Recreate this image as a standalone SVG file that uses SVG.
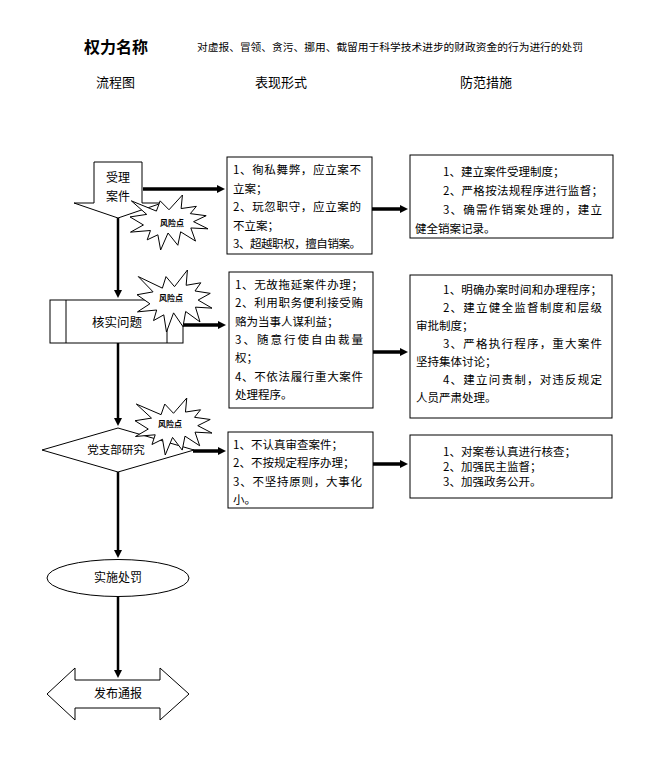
<svg xmlns="http://www.w3.org/2000/svg" xmlns:xlink="http://www.w3.org/1999/xlink" width="668" height="761" viewBox="0 0 668 761">
<style>
text{font-family:"Noto Sans CJK SC","Noto Sans",sans-serif;fill:#000}
.title{font-size:16px;font-weight:bold}
.sub{font-size:10.5px}
.hdr{font-size:13px}
.node{font-size:12px;text-anchor:middle}
.box{font-size:11.5px}
.risk{font-size:8px;font-weight:bold;text-anchor:middle}
.shape{fill:#fff;stroke:#000;stroke-width:1}
.conn{stroke:#000;stroke-width:2.5;fill:none}
.hconn{stroke:#000;stroke-width:3.5;fill:none}
.starp{fill:#fff;stroke:#000;stroke-width:1}
</style>
<defs>
<marker id="ah" markerUnits="userSpaceOnUse" markerWidth="10" markerHeight="10" refX="2" refY="4" orient="auto">
<path d="M0,0 L8,4 L0,8 z" fill="#000"/>
</marker>
<path id="star" d="M50,26.85 L67.23,0 L65.53,24.65 L85.09,20.63 L77.32,33.87 L97.67,37.67 L81.51,48.5 L100,61.53 L77.95,59.92 L84,83.77 L64.91,66.93 L61.33,91.38 L48.76,69.14 L39.28,100 L35.72,72.35 L22.05,81.56 L26.24,64.52 L0.63,67.53 L17.23,54.51 L0,39.88 L21.42,35.26 L1.71,10.63 L33.85,29.26 L38.67,10.63 Z" vector-effect="non-scaling-stroke"/>
</defs>
<rect x="0" y="0" width="668" height="761" fill="#fff"/>

<g id="header">
<text class="title" x="84" y="53">权力名称</text>
<text class="sub" x="197" y="51" textLength="386" lengthAdjust="spacingAndGlyphs">对虚报、冒领、贪污、挪用、截留用于科学技术进步的财政资金的行为进行的处罚</text>
<text class="hdr" x="96" y="87">流程图</text>
<text class="hdr" x="255" y="87">表现形式</text>
<text class="hdr" x="460" y="87">防范措施</text>
</g>

<g id="connectors">
<path class="conn" d="M118,218 V292" marker-end="url(#ah)"/>
<path class="conn" d="M118,343 V420" marker-end="url(#ah)"/>
<path class="conn" d="M118,472 V552" marker-end="url(#ah)"/>
<path class="conn" d="M118,597 V672" marker-end="url(#ah)"/>
<path class="hconn" d="M143,189 H219" marker-end="url(#ah)"/>
<path class="hconn" d="M372,209 H402" marker-end="url(#ah)"/>
<path class="hconn" d="M183,325 H220" marker-end="url(#ah)"/>
<path class="hconn" d="M373,352 H402" marker-end="url(#ah)"/>
<path class="hconn" d="M193,451 H220" marker-end="url(#ah)"/>
<path class="hconn" d="M373,464 H402" marker-end="url(#ah)"/>
</g>

<g id="node-accept">
<polygon class="shape" points="94,162 142,162 142,203 162,203 118,218 74,203 94,203"/>
<text class="node" x="118" y="182">受理</text>
<text class="node" x="118" y="201">案件</text>
</g>

<g id="node-verify">
<rect class="shape" x="50" y="300" width="133" height="43"/>
<line x1="66" y1="300" x2="66" y2="343" stroke="#000" stroke-width="1"/>
<line x1="167" y1="300" x2="167" y2="343" stroke="#000" stroke-width="1"/>
<text class="node" x="117" y="326.5" style="font-size:12.5px">核实问题</text>
</g>

<g id="node-party">
<polygon class="shape" points="42,450 118,428 194,450 118,472"/>
<text class="node" x="116" y="454" style="font-size:11.5px">党支部研究</text>
</g>

<g id="node-punish">
<ellipse class="shape" cx="118" cy="578" rx="71" ry="18.5"/>
<text class="node" x="118" y="582">实施处罚</text>
</g>

<g id="node-publish">
<polygon class="shape" points="47,694 75,668 75,680 160,680 160,668 189,694 160,720 160,708 75,708 75,720"/>
<text class="node" x="118" y="698">发布通报</text>
</g>

<g id="risk1">
<use href="#star" class="starp" transform="translate(130,195) scale(0.78,0.55)"/>
<text class="risk" x="172" y="226">风险点</text>
</g>
<g id="risk2">
<use href="#star" class="starp" transform="translate(137,270) scale(0.75,0.62)"/>
<text class="risk" x="171" y="301">风险点</text>
</g>
<g id="risk3">
<use href="#star" class="starp" transform="translate(135,398) scale(0.77,0.57)"/>
<text class="risk" x="170" y="427">风险点</text>
</g>

<g id="box-form1">
<rect class="shape" x="227" y="157" width="145" height="97"/>
<text class="box" x="233" y="174" textLength="128" lengthAdjust="spacing">1、徇私舞弊，应立案不</text>
<text class="box" x="233" y="192.5">立案；</text>
<text class="box" x="233" y="211" textLength="128" lengthAdjust="spacing">2、玩忽职守，应立案的</text>
<text class="box" x="233" y="229.5">不立案；</text>
<text class="box" x="233" y="248" textLength="128" lengthAdjust="spacing">3、超越职权，擅自销案。</text>
</g>

<g id="box-prev1">
<rect class="shape" x="410" y="155" width="203" height="83"/>
<text class="box" x="443" y="176">1、建立案件受理制度；</text>
<text class="box" x="443" y="195" textLength="160" lengthAdjust="spacing">2、严格按法规程序进行监督；</text>
<text class="box" x="443" y="214" textLength="159" lengthAdjust="spacing">3、确需作销案处理的，建立</text>
<text class="box" x="415" y="233">健全销案记录。</text>
</g>

<g id="box-form2">
<rect class="shape" x="229" y="272" width="144" height="136"/>
<text class="box" x="235" y="289" textLength="128" lengthAdjust="spacing">1、无故拖延案件办理；</text>
<text class="box" x="235" y="307" textLength="128" lengthAdjust="spacing">2、利用职务便利接受贿</text>
<text class="box" x="235" y="326">赂为当事人谋利益；</text>
<text class="box" x="235" y="344" textLength="128" lengthAdjust="spacing">3、随意行使自由裁量</text>
<text class="box" x="235" y="362">权；</text>
<text class="box" x="235" y="381" textLength="128" lengthAdjust="spacing">4、不依法履行重大案件</text>
<text class="box" x="235" y="399">处理程序。</text>
</g>

<g id="box-prev2">
<rect class="shape" x="410" y="275" width="202" height="143"/>
<text class="box" x="443" y="294" textLength="159" lengthAdjust="spacing">1、明确办案时间和办理程序；</text>
<text class="box" x="443" y="312" textLength="159" lengthAdjust="spacing">2、建立健全监督制度和层级</text>
<text class="box" x="416" y="330">审批制度；</text>
<text class="box" x="443" y="348" textLength="159" lengthAdjust="spacing">3、严格执行程序，重大案件</text>
<text class="box" x="416" y="366">坚持集体讨论；</text>
<text class="box" x="443" y="384" textLength="159" lengthAdjust="spacing">4、建立问责制，对违反规定</text>
<text class="box" x="416" y="402">人员严肃处理。</text>
</g>

<g id="box-form3">
<rect class="shape" x="228" y="432" width="145" height="76"/>
<text class="box" x="233" y="449">1、不认真审查案件；</text>
<text class="box" x="233" y="467">2、不按规定程序办理；</text>
<text class="box" x="233" y="486" textLength="129" lengthAdjust="spacing">3、不坚持原则，大事化</text>
<text class="box" x="233" y="504">小。</text>
</g>

<g id="box-prev3">
<rect class="shape" x="410" y="435" width="202" height="63"/>
<text class="box" x="443" y="456">1、对案卷认真进行核查；</text>
<text class="box" x="443" y="471">2、加强民主监督；</text>
<text class="box" x="443" y="486">3、加强政务公开。</text>
</g>
</svg>
